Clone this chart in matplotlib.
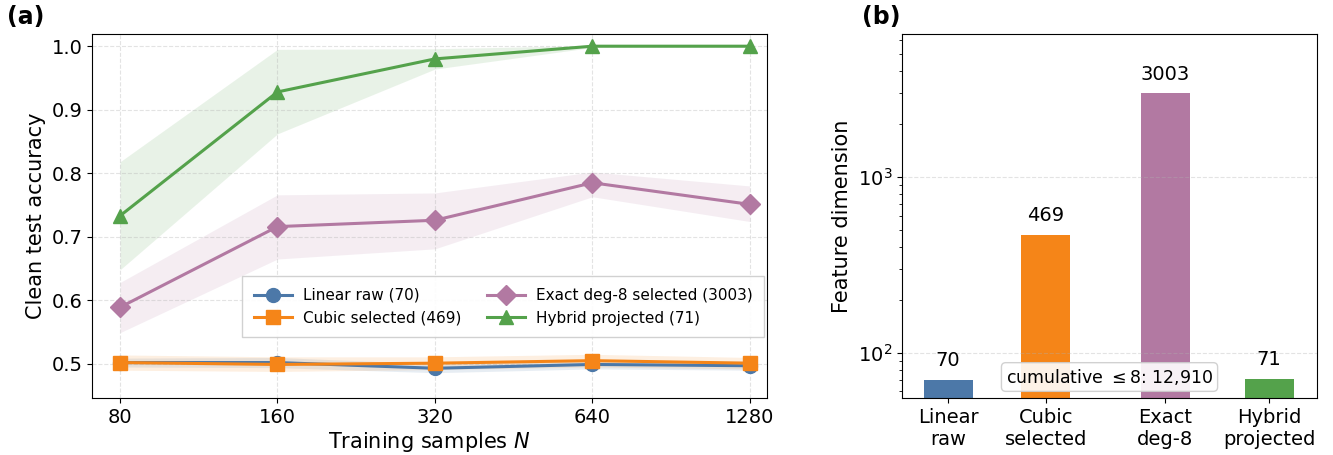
import numpy as np
import matplotlib.pyplot as plt

# training sizes and accuracy (mean, lower, upper) per model
N = [80, 160, 320, 640, 1280]

linear_mean = [0.502, 0.502, 0.493, 0.499, 0.497]
linear_lo = [0.495, 0.494, 0.486, 0.492, 0.490]
linear_hi = [0.509, 0.510, 0.500, 0.506, 0.504]

cubic_mean = [0.502, 0.499, 0.501, 0.505, 0.501]
cubic_lo = [0.490, 0.488, 0.491, 0.495, 0.492]
cubic_hi = [0.514, 0.511, 0.511, 0.515, 0.510]

exact_mean = [0.589, 0.716, 0.726, 0.785, 0.751]
exact_lo = [0.549, 0.665, 0.681, 0.763, 0.724]
exact_hi = [0.628, 0.766, 0.769, 0.802, 0.780]

hybrid_mean = [0.733, 0.928, 0.980, 1.000, 1.000]
hybrid_lo = [0.648, 0.862, 0.964, 0.998, 0.998]
hybrid_hi = [0.818, 0.995, 0.996, 1.001, 1.001]

# feature dimensions
bar_labels = ['Linear\nraw', 'Cubic\nselected', 'Exact\ndeg-8', 'Hybrid\nprojected']
bar_dims = [70, 469, 3003, 71]
bar_pos = [0, 1, 2.22, 3.28]

blue, orange, purple, green = '#4c78a8', '#f58518', '#b279a2', '#54a24b'

plt.rcParams['font.family'] = ['DejaVu Sans']

fig, (ax1, ax2) = plt.subplots(1, 2, figsize=(13.33, 4.55), dpi=100,
                               gridspec_kw={'width_ratios': [675, 415]})
fig.subplots_adjust(left=0.069, right=0.988, top=0.925, bottom=0.125, wspace=0.248)

series = [
    ('Linear raw (70)', linear_mean, linear_lo, linear_hi, blue, 'o'),
    ('Cubic selected (469)', cubic_mean, cubic_lo, cubic_hi, orange, 's'),
    ('Exact deg-8 selected (3003)', exact_mean, exact_lo, exact_hi, purple, 'D'),
    ('Hybrid projected (71)', hybrid_mean, hybrid_lo, hybrid_hi, green, '^'),
]
for label, m, lo, hi, c, mk in series:
    ax1.fill_between(N, lo, hi, color=c, alpha=0.13, linewidth=0)
    ax1.plot(N, m, color=c, marker=mk, markersize=10, linewidth=2.2, label=label)

ax1.set_xscale('log', base=2)
ax1.set_xticks(N)
ax1.set_xticklabels([str(n) for n in N])
ax1.minorticks_off()
ax1.set_xlim(70.7, 1380)
ax1.set_ylim(0.446, 1.019)
ax1.set_yticks([0.5, 0.6, 0.7, 0.8, 0.9, 1.0])
ax1.tick_params(labelsize=14)
ax1.set_xlabel('Training samples $N$', fontsize=15, labelpad=2)
ax1.set_ylabel('Clean test accuracy', fontsize=15)
ax1.grid(True, linestyle='--', alpha=0.35)
ax1.legend(ncol=2, fontsize=11, loc='lower right', bbox_to_anchor=(0.996, 0.168),
           borderaxespad=0, framealpha=0.9, fancybox=False, edgecolor='#cccccc',
           handlelength=2.5, handletextpad=0.7, borderpad=0.75,
           columnspacing=1.7, labelspacing=0.5)

# panel (b)
ax2.bar(bar_pos, bar_dims, width=0.5, color=[blue, orange, purple, green])
ax2.set_yscale('log')
ax2.set_ylim(55, 6500)
ax2.set_xlim(-0.47, 3.77)
ax2.set_xticks(bar_pos)
ax2.set_xticklabels(bar_labels)
ax2.tick_params(labelsize=14)
ax2.set_ylabel('Feature dimension', fontsize=15)
ax2.grid(True, axis='y', linestyle='--', alpha=0.35)
for x, d in zip(bar_pos, bar_dims):
    ax2.text(x, d * 1.13, str(d), ha='center', va='bottom', fontsize=14)
ax2.text(0.5, 0.058, 'cumulative $\\leq$8: 12,910', transform=ax2.transAxes,
         ha='center', va='center', fontsize=12.5,
         bbox=dict(boxstyle='round,pad=0.25', facecolor='white',
                   edgecolor='#cccccc', alpha=0.9))

fig.text(0.005, 0.99, '(a)', fontsize=17, fontweight='bold', va='top')
fig.text(0.647, 0.99, '(b)', fontsize=17, fontweight='bold', va='top')

plt.savefig('out.png', dpi=100)
